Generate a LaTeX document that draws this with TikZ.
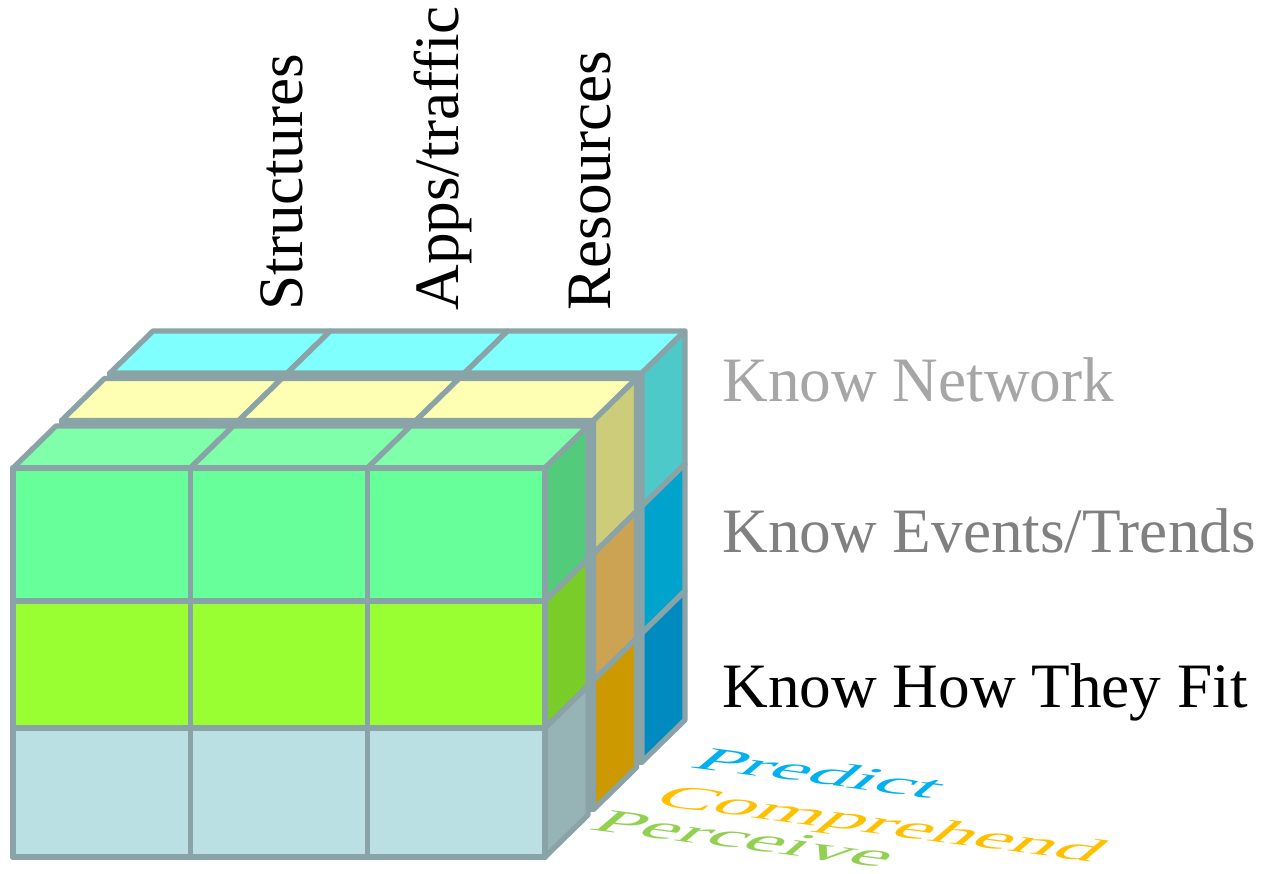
\documentclass[tikz,border=0pt]{standalone}
\usepackage{fontspec}
\setmainfont{Liberation Serif}
\definecolor{edge}{HTML}{8AA3A6}
% perceive layer (front)
\definecolor{pcTop}{HTML}{80FFAA}
\definecolor{pcNet}{HTML}{66FF99}
\definecolor{pcEvt}{HTML}{99FF33}
\definecolor{pcFit}{HTML}{BAE0E3}
\definecolor{pcNetS}{HTML}{52CC7A}
\definecolor{pcEvtS}{HTML}{7ACC29}
\definecolor{pcFitS}{HTML}{96B3B6}
% comprehend layer
\definecolor{cmTop}{HTML}{FFFFB3}
\definecolor{cmNetS}{HTML}{CCCC7A}
\definecolor{cmEvtS}{HTML}{CCA352}
\definecolor{cmFitS}{HTML}{CC9900}
% predict layer (back)
\definecolor{prTop}{HTML}{80FFFF}
\definecolor{prNetS}{HTML}{4DC9C9}
\definecolor{prEvtS}{HTML}{00A3CC}
\definecolor{prFitS}{HTML}{008BC0}
% labels
\definecolor{netGray}{HTML}{A6A6A6}
\definecolor{evtGray}{HTML}{808080}
\definecolor{predBlue}{HTML}{00B0F0}
\definecolor{compGold}{HTML}{FFC000}
\definecolor{percGreen}{HTML}{92D050}
\tikzset{
  cell/.style={draw=edge, line width=3pt, line join=round},
  axislabel/.style={rotate=90, anchor=base west, inner sep=0pt,
    font=\fontsize{36}{36}\selectfont},
  rowlabel/.style={anchor=base west, inner sep=0pt,
    font=\fontsize{36}{36}\selectfont},
  floorlabel/.style={transform shape, anchor=base west, inner sep=0pt,
    font=\fontsize{49}{49}\selectfont}
}

\begin{document}
\begin{tikzpicture}[x=0.02cm, y=-0.02cm]
  \useasboundingbox (0,0) rectangle (1265,874);
  % three slabs, back to front
  \foreach \ox/\oy/\lay in {97/-95/pr, 48.5/-47.5/cm, 0/0/pc} {
    \filldraw[cell, fill=edge] ({13+\ox},{468+\oy}) rectangle ({545+\ox},{857+\oy});
    \foreach \i in {0,1,2}
      \filldraw[cell, fill=\lay Top] ({13+\ox+\i*177.3},{468+\oy}) -- ++(177.3,0)
        -- ++(43,-42) -- ++(-177.3,0) -- cycle;
    \foreach \ya/\yb/\row in {468/601/Net, 601/728/Evt, 728/857/Fit}
      \filldraw[cell, fill=\lay\row S] ({545+\ox},{\ya+\oy}) -- ({545+\ox},{\yb+\oy})
        -- ++(43,-42) -- ({588+\ox},{\ya+\oy-42}) -- cycle;
  }
  % front face
  \foreach \ya/\yb/\row in {468/601/Net, 601/728/Evt, 728/857/Fit}
    \foreach \i in {0,1,2}
      \filldraw[cell, fill=pc\row] ({13+\i*177.3},\ya) rectangle ({13+(\i+1)*177.3},\yb);

  % column labels
  \node[axislabel] (structures) at (302,311) {Structures};
  \node[axislabel] (apps) at (458,311) {Apps/traffic};
  \node[axislabel] (resources) at (610,311) {Resources};

  % row labels
  \node[rowlabel, text=netGray] (knownet) at (722,402) {Know Network};
  \node[rowlabel, text=evtGray] (knowevt) at (722,553) {Know Events/Trends};
  \node[rowlabel] (knowfit) at (722,707) {Know How They Fit};

  % labels on the floor
  \node[floorlabel, text=predBlue, cm={0.991,-0.13,0.40,0.34,(688,767)}] (predict) at (0,0) {Predict};
  \node[floorlabel, text=compGold, cm={0.991,-0.13,0.40,0.34,(650,804)}] (comprehend) at (0,0) {Comprehend};
  \node[floorlabel, text=percGreen, cm={0.991,-0.13,0.40,0.34,(587,829)}] (perceive) at (0,0) {Perceive};
\end{tikzpicture}
\end{document}
